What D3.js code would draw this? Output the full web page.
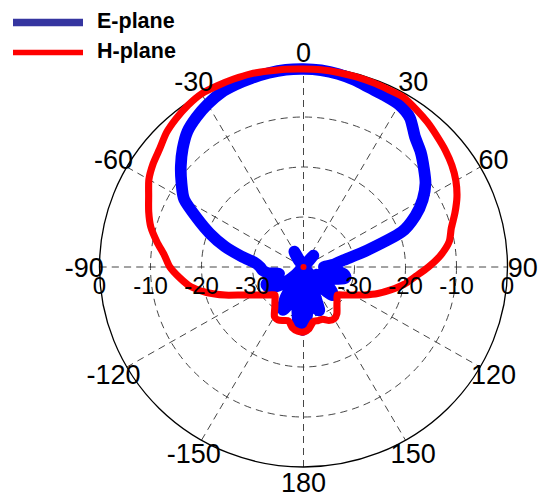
<!DOCTYPE html>
<html>
<head>
<meta charset="utf-8">
<script src="https://cdn.jsdelivr.net/npm/d3@7/dist/d3.min.js"></script>
<style>
  html, body { margin: 0; padding: 0; background: #fff; }
  svg text { font-family: "Liberation Sans", Arial, sans-serif; }
</style>
</head>
<body>
<svg id="chart" width="542" height="498"></svg>
<script>
// Sampling angles in degrees (0 = boresight, clockwise positive)
const angles = [
  -180, -175, -170, -165, -160, -155, -150, -145, -140, -135, -130, -125,
  -120, -115, -110, -105, -100, -95, -90, -85, -80, -75, -70, -65,
  -60, -55, -50, -45, -40, -35, -30, -25, -20, -15, -10, -5,
  0, 5, 10, 15, 20, 25, 30, 35, 40, 45, 50, 55,
  60, 65, 70, 75, 80, 85, 90, 95, 100, 105, 110, 115,
  120, 125, 130, 135, 140, 145, 150, 155, 160, 165, 170, 175
];

// E-plane normalized gain (dB)
const ePlane = [
  -27.5, -28.5, -33, -38, -33, -30.5, -33, -38.5, -43, -38, -35, -33,
  -32, -32, -33.5, -35, -33, -32, -31.5, -30.5, -27.6, -24, -20.5, -17,
  -13, -10.8, -8.6, -6.5, -4.6, -3.4, -2.4, -1.6, -1.2, -0.9, -0.6, -0.4,
  -0.4, -0.5, -0.8, -1.3, -1.9, -2.2, -2.5, -3.6, -6.0, -7.5, -9.2, -10.8,
  -13, -15.8, -19.5, -27, -32, -34, -36, -34, -32, -31.5, -33, -35,
  -37, -36, -33, -32, -35, -41.5, -43.5, -38, -31, -32, -36, -31
];

// H-plane normalized gain (dB)
const hPlane = [
  -27.0, -27.1, -27.6, -28.8, -28.6, -28.3, -28.6, -30.2, -31.3, -32.1, -31.3, -30.2,
  -28.8, -26.8, -23.6, -20.3, -17.5, -15.6, -13.8, -12.6, -10.8, -9.0, -7.7, -6.5,
  -5.0, -4.0, -3.2, -2.0, -1.2, -0.5, 0, 0, 0, 0, -0.2, -0.3,
  -0.4, -0.4, -0.5, -0.6, -0.7, -0.8, -0.8, -1.5, -2.2, -3.0, -3.7, -4.5,
  -5.5, -6.8, -8.4, -10.0, -11.0, -13.0, -15.5, -18.0, -20.0, -22.3, -24.5, -26.8,
  -28.8, -30.2, -31.3, -30.7, -29.8, -28.6, -28.0, -28.2, -28.9, -28.9, -28.9, -27.6
];

const angleTicks = [0, 30, 60, 90, 120, 150, 180, -150, -120, -90, -60, -30];
const ringTicks = [-30, -20, -10];
const radialLabels = ["0", "-10", "-20", "-30"];
const radialLabelValues = [0, -10, -20, -30];
const seriesNames = ["E-plane", "H-plane"];

const svg = d3.select("#chart");
const cx = 303.5, cy = 267, R = 200, sx = 1.02;

// radius scale: -40 dB at the origin, 0 dB at the rim (not clamped, like a classic polar plot)
const r = d3.scaleLinear().domain([-40, 0]).range([0, R]);
const rad = d => d * Math.PI / 180;

svg.append("rect").attr("width", 542).attr("height", 498).attr("fill", "#fff");

const plot = svg.append("g").attr("transform", `translate(${cx},${cy}) scale(${sx},1)`);

// dashed rings
plot.selectAll("circle.ring").data(ringTicks).join("circle")
  .attr("class", "ring")
  .attr("r", d => r(d))
  .attr("fill", "none")
  .attr("stroke", "#333")
  .attr("stroke-width", 0.9)
  .attr("stroke-dasharray", "7,5");

// dashed spokes every 30 degrees
plot.selectAll("line.spoke").data(d3.range(0, 180, 30)).join("line")
  .attr("class", "spoke")
  .attr("x1", d => -r(0) * Math.sin(rad(d)))
  .attr("y1", d => r(0) * Math.cos(rad(d)))
  .attr("x2", d => r(0) * Math.sin(rad(d)))
  .attr("y2", d => -r(0) * Math.cos(rad(d)))
  .attr("stroke", "#333")
  .attr("stroke-width", 0.9)
  .attr("stroke-dasharray", "7,5");

// outer rim
plot.append("circle")
  .attr("r", r(0))
  .attr("fill", "none")
  .attr("stroke", "#000")
  .attr("stroke-width", 1.3);

// angle labels
svg.append("g").selectAll("text").data(angleTicks).join("text")
  .attr("x", d => cx + 1.075 * r(0) * sx * Math.sin(rad(d)))
  .attr("y", d => cy - 1.075 * r(0) * Math.cos(rad(d)))
  .attr("dy", "0.36em")
  .attr("text-anchor", "middle")
  .attr("font-size", 27)
  .attr("fill", "#000")
  .text(d => String(d));

// radial labels on both sides of the horizontal axis
const radialData = [];
radialLabels.forEach((t, i) => {
  radialData.push({ t, x: cx - r(radialLabelValues[i]) * sx });
  radialData.push({ t, x: cx + r(radialLabelValues[i]) * sx });
});
svg.append("g").selectAll("text").data(radialData).join("text")
  .attr("x", d => d.x)
  .attr("y", cy + 27)
  .attr("text-anchor", "middle")
  .attr("font-size", 24)
  .attr("fill", "#000")
  .text(d => d.t);

// pattern traces
const radial = d3.lineRadial()
  .angle(d => rad(d[0]))
  .radius(d => r(d[1]))
  .curve(d3.curveCardinalClosed.tension(0.3));

plot.append("path")
  .datum(angles.map((a, i) => [a, ePlane[i]]))
  .attr("d", radial)
  .attr("fill", "none")
  .attr("stroke", "#0000ff")
  .attr("stroke-width", 11.5)
  .attr("stroke-linejoin", "round");

plot.append("path")
  .datum(angles.map((a, i) => [a, hPlane[i]]))
  .attr("d", radial)
  .attr("fill", "none")
  .attr("stroke", "#ff0000")
  .attr("stroke-width", 7)
  .attr("stroke-linejoin", "round");

plot.append("circle").attr("r", 3).attr("fill", "#ff0000");

// legend
const legend = svg.append("g");
const legendColors = ["#3535a0", "#ff0000"];
const legendWidths = [7.5, 5.5];
const legendY = [22.5, 52.5];
seriesNames.forEach((name, i) => {
  legend.append("line")
    .attr("x1", 13).attr("x2", 83)
    .attr("y1", legendY[i]).attr("y2", legendY[i])
    .attr("stroke", legendColors[i])
    .attr("stroke-width", legendWidths[i]);
  legend.append("text")
    .attr("x", 97).attr("y", legendY[i] + 5.5)
    .attr("font-size", 21.5)
    .attr("font-weight", "bold")
    .attr("fill", "#000")
    .text(name);
});
</script>
</body>
</html>
